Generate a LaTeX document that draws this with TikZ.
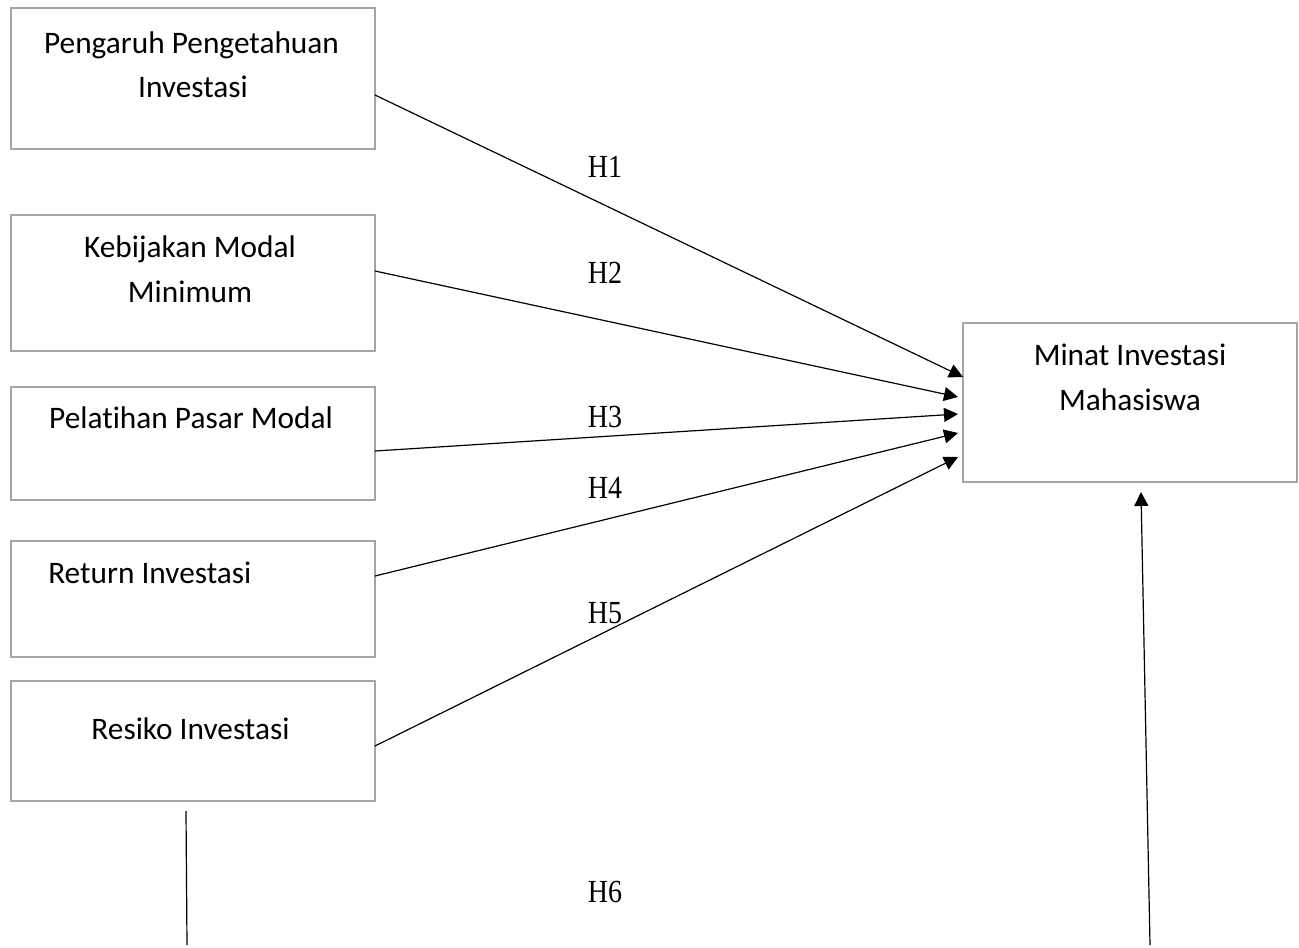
\documentclass[tikz,border=0pt]{standalone}
\usepackage{fontspec}
\setmainfont{Carlito}[Ligatures=NoCommon]
\newfontfamily\hfont{Liberation Serif}
\usetikzlibrary{arrows.meta,calc}
\definecolor{boxgray}{HTML}{A5A5A5}
\newcommand{\hyp}[1]{\scalebox{1}[1.15]{#1}}
\begin{document}
\begin{tikzpicture}[x=0.75pt,y=-0.75pt,
  box/.style={draw=boxgray,line width=1.8pt,rectangle,inner sep=0pt,outer sep=0pt,minimum width=273pt},
  lbl/.style={font=\fontsize{23.5}{33}\selectfont,inner sep=0pt,align=center,anchor=base},
  hlab/.style={font=\hfont\fontsize{21}{24}\selectfont,inner sep=0pt,anchor=base},
  arr/.style={-{Triangle[length=10.5pt,width=10.5pt]},line width=0.9pt,black},
  ln/.style={line width=0.9pt,black}]
\useasboundingbox (0,0) rectangle (1299,947);
% boxes
\node[box,minimum height=105.75pt] (b1) at (193,78.5) {};
\node[box,minimum height=102pt] (b2) at (193,283) {};
\node[box,minimum height=84.75pt] (b3) at (193,443.5) {};
\node[box,minimum height=87pt] (b4) at (193,599) {};
\node[box,minimum height=90pt] (b5) at (193,741) {};
\node[box,minimum width=250.5pt,minimum height=119.25pt] (m) at (1130,402.5) {};
% texts
\node[lbl] (t1a) at (191.5,53) {Pengaruh Pengetahuan};
\node[lbl] (t1b) at (193,97) {Investasi};
\node[lbl] (t2a) at (190,257) {Kebijakan Modal};
\node[lbl] (t2b) at (190,302) {Minimum};
\node[lbl] (t3) at (191,428) {Pelatihan Pasar Modal};
\node[lbl,anchor=base west] (t4) at (48,583) {Return Investasi};
\node[lbl] (t5) at (190.5,739) {Resiko Investasi};
\node[lbl] (tma) at (1130,365) {Minat Investasi};
\node[lbl] (tmb) at (1130,410) {Mahasiswa};
% hypothesis labels
\node[hlab] (h1) at (605,177) {\hyp{H1}};
\node[hlab] (h2) at (605,283) {\hyp{H2}};
\node[hlab] (h3) at (605,427) {\hyp{H3}};
\node[hlab] (h4) at (605,498) {\hyp{H4}};
\node[hlab] (h5) at (605,623) {\hyp{H5}};
\node[hlab] (h6) at (605,902) {\hyp{H6}};
% connectors
\draw[arr] ($(b1.east)+(0,16.5)$) -- ($(m.west)+(0,-25.5)$);
\draw[arr] ($(b2.east)+(0,-12)$) -- ($(m.west)+(-5,-5.5)$);
\draw[arr] ($(b3.east)+(0,7.5)$) -- ($(m.west)+(-5,11.5)$);
\draw[arr] ($(b4.east)+(0,-23)$) -- ($(m.west)+(-5,30.5)$);
\draw[arr] ($(b5.east)+(0,5)$) -- ($(m.west)+(-5,54.5)$);
\coordinate (c6a) at (1150,945);
\coordinate (c6b) at (186,811);
\coordinate (c6c) at (187,945);
\draw[arr] (c6a) -- ($(m.south)+(11,10)$);
\draw[ln] (c6b) -- (c6c);
\end{tikzpicture}
\end{document}
